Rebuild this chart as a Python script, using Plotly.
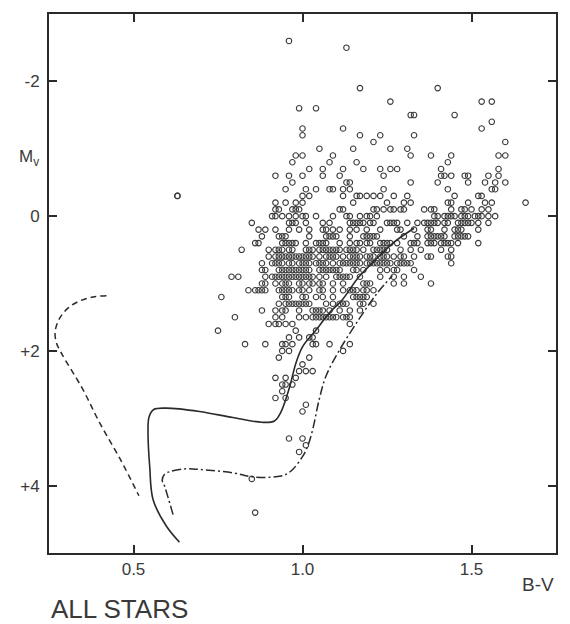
import plotly.graph_objects as go

# ---------------- data ----------------
# Each row: absolute magnitude Mv and the B-V colours (in hundredths) of the stars in that row
row_mv = [-2.6, -2.5, -1.9, -1.7, -1.6, -1.5, -1.4, -1.3, -1.2, -1.1, -1.0, -0.9, -0.8, -0.7,
          -0.6, -0.5, -0.4, -0.3, -0.2, -0.1, 0.0, 0.1, 0.2, 0.3, 0.4, 0.5, 0.6, 0.7, 0.8,
          0.9, 1.0, 1.1, 1.2, 1.3, 1.4, 1.5, 1.6, 1.7, 1.8, 1.9, 2.0, 2.1, 2.2, 2.3, 2.4,
          2.5, 2.6, 2.7, 2.8, 2.9, 3.3, 3.4, 3.5, 3.9, 4.4]
row_bv = [
    [96],
    [113],
    [117, 140],
    [126, 153, 156],
    [99, 104],
    [132, 133, 145],
    [156],
    [100, 112, 153],
    [100, 117, 123, 133],
    [121, 160],
    [105, 115, 126, 131],
    [98, 100, 109, 132, 138, 144, 158, 160],
    [97, 108, 116, 143],
    [102, 106, 112, 118, 123, 126, 128, 141, 158],
    [92, 96, 100, 106, 111, 124, 141, 142, 144, 148, 149, 155, 158],
    [97, 113, 114, 132, 140, 149, 154, 157, 160],
    [95, 101, 104, 108, 109, 112, 114, 124, 143, 156, 157],
    [63, 100, 102, 112, 116, 117, 119, 121, 123, 127, 131, 145, 152, 153],
    [92, 95, 98, 100, 115, 125, 130, 132, 143, 144, 149, 154, 156, 166],
    [92, 93, 97, 98, 99, 111, 112, 121, 122, 124, 126, 127, 129, 130, 136, 138, 139, 144,
     147, 148, 150, 153, 155],
    [91, 92, 94, 96, 98, 100, 101, 104, 109, 113, 114, 117, 119, 120, 122, 139, 140, 142,
     143, 144, 145, 147, 148, 149, 151, 152, 153, 155, 157],
    [85, 96, 97, 98, 101, 106, 108, 114, 115, 116, 117, 118, 120, 121, 125, 126, 127, 128,
     131, 134, 136, 137, 138, 139, 140, 142, 143, 146, 147, 148, 149, 150, 152, 155],
    [87, 89, 92, 96, 99, 102, 106, 107, 109, 111, 114, 116, 119, 123, 128, 129, 133, 137,
     138, 142, 145, 146, 147, 152],
    [88, 93, 94, 95, 102, 107, 108, 109, 110, 114, 118, 119, 120, 121, 122, 130, 134, 137,
     138, 139, 140, 141, 142, 145, 146, 147, 148, 149],
    [86, 87, 94, 95, 96, 97, 98, 101, 104, 105, 106, 107, 111, 114, 116, 117, 119, 120, 123,
     124, 125, 126, 128, 132, 133, 134, 137, 138, 139, 141, 142, 143, 144, 146, 152],
    [82, 90, 92, 93, 94, 96, 97, 101, 102, 103, 105, 106, 107, 108, 109, 110, 111, 113, 114,
     115, 116, 118, 121, 122, 123, 124, 125, 129, 132, 135, 141, 144],
    [90, 92, 93, 94, 95, 96, 97, 98, 99, 100, 101, 102, 103, 105, 107, 108, 109, 110, 112,
     114, 115, 116, 117, 119, 120, 121, 123, 124, 125, 127, 129, 130, 133, 137, 138, 143, 144],
    [88, 91, 92, 93, 94, 96, 97, 99, 100, 101, 102, 104, 105, 106, 107, 109, 111, 112, 113,
     114, 115, 116, 117, 119, 120, 121, 122, 123, 124, 125, 126, 128, 129, 130, 131, 132, 144],
    [88, 89, 93, 94, 95, 96, 97, 98, 99, 100, 101, 102, 105, 106, 107, 108, 109, 110, 111,
     115, 116, 118, 123, 125, 127, 128, 133],
    [79, 81, 89, 91, 92, 93, 94, 95, 96, 97, 98, 99, 100, 101, 102, 103, 105, 107, 110, 111,
     112, 113, 114, 117, 123, 127, 130, 135],
    [88, 89, 92, 94, 95, 96, 99, 100, 102, 103, 105, 106, 109, 112, 118, 119, 120, 127, 130, 138],
    [84, 86, 87, 88, 89, 93, 94, 95, 96, 97, 99, 100, 102, 105, 106, 109, 112, 114, 115, 116,
     118, 119, 121],
    [76, 94, 95, 96, 100, 101, 104, 106, 109, 115, 116, 117, 118, 119],
    [93, 95, 96, 97, 98, 99, 100, 101, 102, 107, 109, 111, 112, 113, 117, 118, 121],
    [88, 92, 94, 95, 99, 103, 104, 105, 106, 108, 111, 114, 117],
    [80, 92, 94, 99, 101, 103, 104, 105, 106, 107, 108, 109, 110, 112, 113, 114],
    [90, 92, 93, 95, 97, 114],
    [75, 98, 104],
    [96, 99, 102, 103],
    [83, 89, 94, 95, 97, 103, 104, 108, 114],
    [94, 96, 112],
    [93, 102],
    [100],
    [99, 101, 103],
    [92, 95, 98],
    [94, 95, 97],
    [94],
    [92, 95],
    [101],
    [100],
    [96, 100],
    [101],
    [99],
    [85],
    [86],
]
# extra isolated star on the far left (blue side)
extra_bv = [0.63]
extra_mv = [-0.3]

# Curves (B-V, Mv)
dashed_bv = [0.42, 0.38, 0.34, 0.305, 0.28, 0.268, 0.272, 0.285, 0.35, 0.40, 0.46, 0.516]
dashed_mv = [1.18, 1.20, 1.26, 1.37, 1.53, 1.72, 1.88, 2.02, 2.57, 3.07, 3.60, 4.15]

solid_bv = [0.636, 0.597, 0.558, 0.548, 0.543, 0.546, 0.560, 0.597, 0.695, 0.794, 0.880,
            0.917, 0.935, 0.961, 0.980, 1.000, 1.040, 1.079, 1.118, 1.167, 1.226, 1.270, 1.330]
solid_mv = [4.84, 4.60, 4.21, 3.72, 3.22, 2.98, 2.87, 2.85, 2.90, 2.99, 3.06,
            3.04, 2.92, 2.55, 2.19, 1.94, 1.69, 1.44, 1.24, 0.90, 0.60, 0.39, 0.18]

dashdot_bv = [0.617, 0.592, 0.585, 0.592, 0.610, 0.656, 0.695, 0.794, 0.852, 0.921, 0.948,
              0.971, 1.000, 1.015, 1.030, 1.049, 1.069, 1.108, 1.167, 1.220, 1.266]
dashdot_mv = [4.43, 4.01, 3.92, 3.83, 3.79, 3.75, 3.76, 3.81, 3.87, 3.87, 3.84,
              3.76, 3.57, 3.42, 3.17, 2.73, 2.38, 2.00, 1.53, 1.15, 0.88]

x_ticks = [0.5, 1.0, 1.5]
x_ticktext = ["0.5", "1.0", "1.5"]
y_ticks = [-2, 0, 2, 4]
y_ticktext = ["-2", "0", "+2", "+4"]

# ---------------- build ----------------
star_bv = []
star_mv = []
for mv, bvs in zip(row_mv, row_bv):
    for b in bvs:
        star_bv.append(b / 100.0)
        star_mv.append(mv)
star_bv += extra_bv
star_mv += extra_mv

ink = "#2a2a2a"
text_col = "#3a3a3a"
font_family = "Liberation Sans, Arial, sans-serif"

fig = go.Figure()
fig.add_trace(go.Scatter(
    x=star_bv, y=star_mv, mode="markers",
    marker=dict(symbol="circle-open", size=5.5, color="#3a3a3a", line=dict(width=1.1, color="#3a3a3a")),
    showlegend=False, hoverinfo="skip"))
fig.add_trace(go.Scatter(
    x=dashed_bv, y=dashed_mv, mode="lines",
    line=dict(color=ink, width=1.5, dash="6px,4px", shape="spline", smoothing=1.0),
    showlegend=False, hoverinfo="skip"))
fig.add_trace(go.Scatter(
    x=solid_bv, y=solid_mv, mode="lines",
    line=dict(color=ink, width=1.6, shape="spline", smoothing=1.0),
    showlegend=False, hoverinfo="skip"))
fig.add_trace(go.Scatter(
    x=dashdot_bv, y=dashdot_mv, mode="lines",
    line=dict(color=ink, width=1.5, dash="9px,3px,2px,3px", shape="spline", smoothing=1.0),
    showlegend=False, hoverinfo="skip"))

axis_common = dict(
    showline=True, linecolor=ink, linewidth=2, mirror="allticks",
    ticks="inside", ticklen=8, tickwidth=1.5, tickcolor=ink,
    showgrid=False, zeroline=False,
    tickfont=dict(family=font_family, size=17, color=text_col),
)

fig.update_xaxes(range=[0.25, 1.75], tickvals=x_ticks, ticktext=x_ticktext, **axis_common)
fig.update_yaxes(range=[5, -3], tickvals=y_ticks, ticktext=y_ticktext, ticklabelstandoff=4,
                 **axis_common)

fig.update_layout(
    width=570, height=624,
    margin=dict(l=49, r=12, t=14, b=71),
    paper_bgcolor="white", plot_bgcolor="white",
    font=dict(family=font_family, color=text_col),
    annotations=[
        dict(text="M<sub>v</sub>", xref="paper", yref="paper", x=-0.063, y=0.757,
             showarrow=False, font=dict(size=17, color=text_col)),
        dict(text="B-V", xref="paper", yref="paper", x=1.0, y=-0.059, xanchor="right",
             yanchor="middle", showarrow=False, font=dict(size=19, color=text_col)),
        dict(text="ALL STARS", xref="paper", yref="paper", x=0.0, y=-0.104, xanchor="left",
             yanchor="middle", showarrow=False, font=dict(size=26, color=text_col)),
    ],
)

fig.write_html(
    "out.html",
    config={"displayModeBar": False},
    post_script="document.body.style.margin='0';document.body.style.padding='0';"
                "document.documentElement.style.overflow='hidden';",
)
